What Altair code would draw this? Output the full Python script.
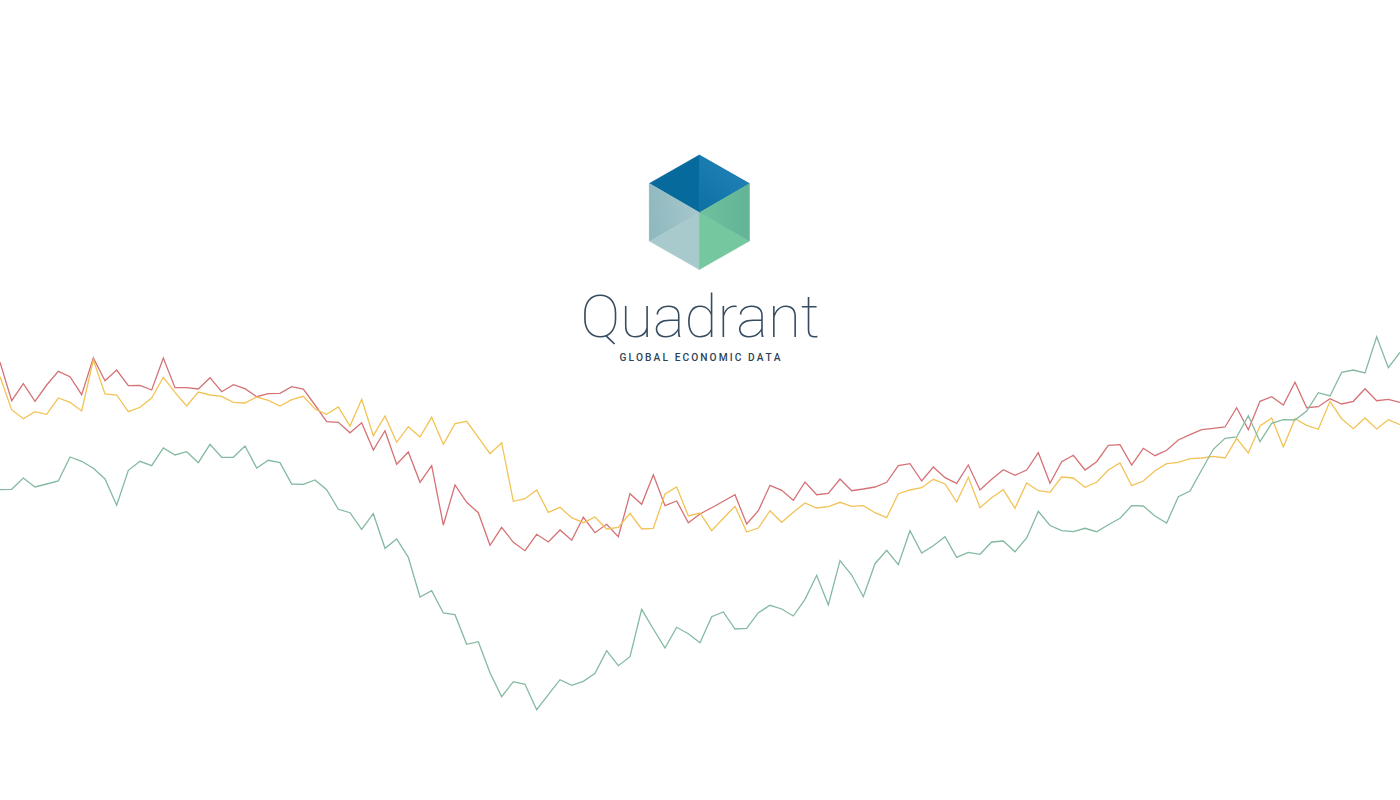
import altair as alt
import pandas as pd

# Series readings (depth below the top of the picture, 0 = top, 800 = bottom), 121 periods
red = [362.3,400.7,383.7,401.3,385,371.3,376.7,394.7,358,380.7,370,385.7,385.3,390,358,387.7,387.7,389,377.7,391.7,
       384.7,388.7,396.7,393.7,393.3,386.7,389,405,421.7,422.3,
       432.8,
       422.7,450,430.7,464.3,452,482.3,465.7,525,485,502.3,512.7,545.3,527.3,542.3,550.7,534.3,542,530,540.3,517.3,
       532.7,524.3,536.7,493.7,504.3,474.7,505.7,501,522.7,
       514,
       507.7,501.3,494.7,524,510.7,485.3,490.3,500.3,482,494.7,493.3,479,490.7,489,487,482.3,465.7,463.7,481,467,
       477.7,483.3,465,490,479.3,469.7,475.3,470,452.7,
       483.3,
       461.7,455.3,470,461.7,445.3,444.7,465,448.3,455.7,450.3,440,434.7,429.7,428.3,427,407.7,429.7,401.3,396.7,405,
       382.3,407.7,406.7,398.7,404,401.3,388.7,400.7,399.3,402.3]

yellow = [376.7,409.7,418.7,411.7,414.3,398,402.3,411,360,394,395,411.7,407.3,398,377.3,392.3,406,392,395,396.3,
          402.3,403,397,400.3,406,399.7,396.3,409,414.3,407,
          426,
          399.3,435.7,416,442.3,426.7,437,417.3,444.3,423.7,421.3,437.3,453.7,442.7,501.3,498.7,490,512.3,507.3,517.7,522.7,
          517,529,527.3,513.3,529,528.3,494,487,516,
          513,
          530.7,518.3,506.3,532,528,510.7,522.3,512.3,503,508,506.7,502.3,506.3,505.7,512.7,517.7,493.7,490,487.7,479.3,
          484,502,477.3,507.7,497.7,489.7,508.3,483,490.7,
          492.3,
          477,478,487.3,482.3,470,463,485.7,481,470.7,463.7,462.3,458.7,458,456.3,458,438.3,453,426,418,447,
          418.7,425.3,429.3,401.3,418.7,428.7,418,429,419.7,424.7]

green = [489.7,489.3,478,487,484,481,457,461.3,468.3,479,505.3,470.3,461.3,465.7,448,455,451.7,462.7,444.3,457.3,
         457.3,446,468,460.3,462.7,484,484.3,480,489.7,509.3,
         512.7,
         529.3,513.7,548.3,539,557.3,597,590.7,613,614.7,644.3,641.7,672.7,696.7,681.7,684.3,709.7,694.7,679.7,685.3,681.3,
         673.3,650.7,665.7,656.7,609.3,629,648,627.3,633.7,
         642.7,
         616.7,612,629,628.3,612.7,605.3,609,616,599.3,575.3,605,560.7,575,596.7,563.7,550.3,564.7,530.7,553,545.7,
         536.7,557.3,552.3,554.3,542,541,551.7,538,511.3,
         525.5,
         530.7,531.7,528.3,531.7,524.7,518.3,505.7,506,516,523,496.7,491,470,449.3,438.3,437,415.7,441.7,423.3,419.7,
         420,411,392.7,396,372.3,370,373,336.7,367.7,352.3]

series_names = ["green", "yellow", "red"]
series_colors = ["#84baa1", "#f2c356", "#d47275"]

title_text = ["Quadrant"]
subtitle_text = ["G\u2009L\u2009O\u2009B\u2009A\u2009L\u2009 \u2009E\u2009C\u2009O\u2009N\u2009O\u2009M\u2009I\u2009C\u2009 \u2009D\u2009A\u2009T\u2009A"]

# logo faces (unit symbol paths) and colours
P_TOP_L = "M0,-1.15L0,0L-1,-0.58Z"
P_TOP_R = "M0,-1.15L1,-0.58L0,0Z"
P_LEFT_U = "M-1,-0.58L0,0L-1,0.57Z"
P_LEFT_D = "M-1,0.57L0,0L0,1.14Z"
P_RIGHT_U = "M1,-0.58L1,0.57L0,0Z"
P_RIGHT_D = "M0,0L1,0.57L0,1.14Z"
face_paths = [P_TOP_L, P_TOP_R, P_LEFT_U, P_LEFT_D, P_RIGHT_U, P_RIGHT_D]
face_colors = ["#076a9c", "#1677ad", "#9cc0c5", "#a9cacc", "#68b99b", "#75c7a0"]

rows = []
for name, vals in zip(["red", "yellow", "green"], [red, yellow, green]):
    for i, v in enumerate(vals):
        rows.append({"i": i, "v": v, "s": name})
df = pd.DataFrame(rows)

lines = alt.Chart(df).mark_line(strokeWidth=1.3, clip=False).encode(
    x=alt.X("i:Q", scale=alt.Scale(domain=[0, 120], nice=False, zero=False), axis=None),
    y=alt.Y("v:Q", scale=alt.Scale(domain=[0, 800], reverse=True, nice=False, zero=False), axis=None),
    color=alt.Color("s:N", scale=alt.Scale(domain=series_names, range=series_colors), legend=None),
)

LX, LY, LS = 699.3, 212.5, 10000

logo_df = pd.DataFrame({"p": face_paths, "c": face_colors})
logo = alt.Chart(logo_df).mark_point(filled=True, opacity=1, strokeWidth=0.6, strokeOpacity=1).encode(
    x=alt.value(LX),
    y=alt.value(LY),
    shape=alt.Shape("p:N", scale=None),
    fill=alt.Fill("c:N", scale=None),
    stroke=alt.Stroke("c:N", scale=None),
    size=alt.value(LS),
)


def grad_face(path, c1, c2, x1, y1, x2, y2):
    g = alt.LinearGradient(
        gradient="linear",
        stops=[alt.GradientStop(color=c1, offset=0), alt.GradientStop(color=c2, offset=1)],
        x1=x1, y1=y1, x2=x2, y2=y2,
    )
    return alt.Chart(pd.DataFrame({"p": [path]})).mark_point(
        filled=True, opacity=1, strokeWidth=0, fill=g
    ).encode(
        x=alt.value(LX), y=alt.value(LY),
        shape=alt.Shape("p:N", scale=None),
        size=alt.value(LS),
    )


g_top = grad_face(P_TOP_R, "#0d70a4", "#2283b8", 0, 1, 0.8, 0)
g_left = grad_face(P_LEFT_U, "#8fb8bf", "#a6c8cb", 0, 0.6, 1, 0.4)
g_right = grad_face(P_RIGHT_U, "#6fc19e", "#63b397", 0, 0.5, 1, 0.5)

title = alt.Chart(pd.DataFrame({"t": title_text})).mark_text(
    font="Roboto", fontSize=60, fontWeight=100, color="#364c60", align="center", baseline="alphabetic"
).encode(text="t:N", x=alt.value(700), y=alt.value(337))

subtitle = alt.Chart(pd.DataFrame({"t": subtitle_text})).mark_text(
    font="Roboto", fontSize=10.2, fontWeight=500, color="#2e4357", align="center", baseline="alphabetic"
).encode(text="t:N", x=alt.value(700), y=alt.value(361))

chart = alt.layer(lines, logo, g_top, g_left, g_right, title, subtitle).properties(
    width=1400, height=800, padding=0, background="#ffffff",
    autosize=alt.AutoSizeParams(type="none"),
).configure_view(stroke=None)

chart.save("out.html", embed_options={"renderer": "svg", "actions": False})
